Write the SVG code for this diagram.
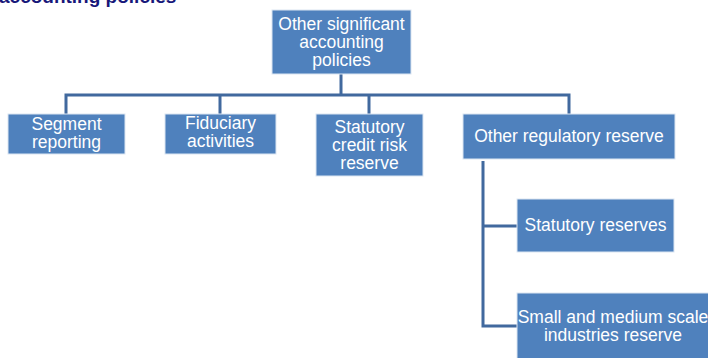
<svg xmlns="http://www.w3.org/2000/svg" width="708" height="358" viewBox="0 0 708 358">
<style>
.box{fill:#4F81BD;stroke:#DCE6F2;stroke-width:1}
.t{font-family:"Liberation Sans",Arial,sans-serif;font-size:17.5px;fill:#FFFFFF;text-anchor:middle}
.c{fill:none;stroke:#41699E;stroke-width:3}
.title{font-family:"Liberation Sans",Arial,sans-serif;font-size:19px;font-weight:bold;fill:#17177A}
</style>
<rect width="708" height="358" fill="#FFFFFF"/>
<text class="title" x="-1" y="3">accounting policies</text>
<g id="connectors">
<path class="c" d="M341 74V95"/>
<path class="c" d="M66 114V95H569V114"/>
<path class="c" d="M220 95V114"/>
<path class="c" d="M369 95V114"/>
<path class="c" d="M483 161V326H517"/>
<path class="c" d="M483 226H517"/>
</g>
<g id="root">
<rect class="box" x="272" y="10" width="139" height="64"/>
<text class="t" x="341.5" y="29.5">Other significant</text>
<text class="t" x="341.5" y="47.5">accounting</text>
<text class="t" x="341.5" y="65.5">policies</text>
</g>
<g id="segment">
<rect class="box" x="8" y="114" width="117" height="40"/>
<text class="t" x="66.5" y="130">Segment</text>
<text class="t" x="66.5" y="148">reporting</text>
</g>
<g id="fiduciary">
<rect class="box" x="165" y="114" width="111" height="40"/>
<text class="t" x="220.5" y="129">Fiduciary</text>
<text class="t" x="220.5" y="147">activities</text>
</g>
<g id="statutory-credit">
<rect class="box" x="316" y="114" width="107" height="62"/>
<text class="t" x="369.5" y="133">Statutory</text>
<text class="t" x="369.5" y="151">credit risk</text>
<text class="t" x="369.5" y="169">reserve</text>
</g>
<g id="other-regulatory">
<rect class="box" x="463" y="114" width="212" height="45"/>
<text class="t" x="569" y="142">Other regulatory reserve</text>
</g>
<g id="statutory-reserves">
<rect class="box" x="517" y="199" width="157" height="53"/>
<text class="t" x="595.5" y="231">Statutory reserves</text>
</g>
<g id="sme">
<rect class="box" x="517" y="293" width="192" height="67"/>
<text class="t" x="613" y="323">Small and medium scale</text>
<text class="t" x="613" y="341">industries reserve</text>
</g>
</svg>
